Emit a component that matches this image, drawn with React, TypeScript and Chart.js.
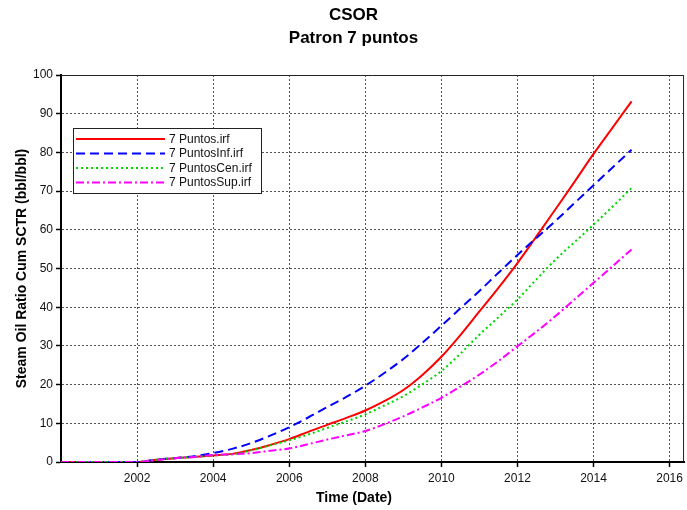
import React, { useEffect, useRef } from "react";
import { Chart, registerables } from "chart.js";

Chart.register(...registerables);

const years = [2000, 2001, 2002, 2002.5, 2003, 2003.5, 2004, 2004.5, 2005, 2005.5, 2006, 2006.5, 2007, 2007.5, 2008, 2008.5, 2009, 2009.5, 2010, 2010.5, 2011, 2011.5, 2012, 2012.5, 2013, 2013.5, 2014, 2014.5, 2015];

const puntos = [0, 0, 0, 0.6, 1.0, 1.3, 1.7, 2.1, 3.1, 4.4, 5.9, 7.8, 9.6, 11.4, 13.3, 15.7, 18.6, 22.5, 27.2, 32.8, 38.9, 45.0, 51.4, 58.3, 65.3, 72.4, 79.6, 86.4, 93.2];
const puntosInf = [0, 0, 0, 0.6, 1.0, 1.5, 2.3, 3.4, 4.9, 6.8, 9.0, 11.5, 14.2, 16.8, 19.7, 23.0, 26.6, 30.8, 35.2, 39.7, 44.2, 48.9, 53.5, 57.9, 62.3, 66.9, 71.5, 76.1, 80.7];
const puntosCen = [0, 0, 0, 0.6, 1.0, 1.3, 1.7, 2.0, 3.0, 4.3, 5.6, 7.1, 8.8, 10.5, 12.3, 14.6, 17.0, 20.1, 23.5, 28.0, 32.9, 37.4, 42.0, 47.2, 52.3, 56.8, 61.3, 66.0, 70.8];
const puntosSup = [0, 0, 0, 0.5, 1.0, 1.3, 1.8, 2.0, 2.3, 2.9, 3.5, 4.6, 5.8, 6.9, 8.0, 9.8, 11.8, 14.1, 16.6, 19.5, 22.6, 26.1, 29.9, 33.7, 37.7, 42.0, 46.3, 50.6, 54.9];

const seriesLabels = ["7 Puntos.irf", "7 PuntosInf.irf", "7 PuntosCen.irf", "7 PuntosSup.irf"];
const xTickValues = [2002, 2004, 2006, 2008, 2010, 2012, 2014, 2016];
const titleLines = ["CSOR", "Patron 7 puntos"];
const xTitle = "Time (Date)";
const yTitle = "Steam Oil Ratio Cum SCTR (bbl/bbl)";

const FONT = "'Liberation Sans', Arial, sans-serif";

const toPoints = (vals: number[]) => vals.map((v, i) => ({ x: years[i], y: v }));

const extrasPlugin = {
  id: "extras",
  afterDraw(chart: any) {
    const { ctx, chartArea: ca } = chart;
    ctx.save();
    // top and right frame
    ctx.strokeStyle = "#222";
    ctx.lineWidth = 1;
    ctx.setLineDash([]);
    ctx.beginPath();
    ctx.moveTo(ca.left, ca.top + 0.5);
    ctx.lineTo(ca.right - 0.5, ca.top + 0.5);
    ctx.lineTo(ca.right - 0.5, ca.bottom);
    ctx.stroke();

    // x-axis title
    ctx.fillStyle = "#000";
    ctx.font = `bold 14px ${FONT}`;
    ctx.textAlign = "center";
    ctx.textBaseline = "middle";
    ctx.fillText(xTitle, 354, 498);

    // legend
    const lx = ca.left + 12;
    const ly = ca.top + 53;
    const lw = 188;
    const lh = 65;
    ctx.fillStyle = "#fff";
    ctx.fillRect(lx, ly, lw, lh);
    ctx.strokeStyle = "#222";
    ctx.lineWidth = 1;
    ctx.strokeRect(lx + 0.5, ly + 0.5, lw, lh);
    ctx.font = `12px ${FONT}`;
    ctx.textAlign = "left";
    chart.data.datasets.forEach((ds: any, i: number) => {
      const y = ly + 11 + i * 14.5;
      ctx.strokeStyle = ds.borderColor;
      ctx.lineWidth = ds.borderWidth;
      ctx.setLineDash(ds.borderDash || []);
      ctx.beginPath();
      ctx.moveTo(lx + 3, y);
      ctx.lineTo(lx + 92, y);
      ctx.stroke();
      ctx.setLineDash([]);
      ctx.fillStyle = "#111";
      ctx.fillText(ds.label, lx + 96, y + 0.5);
    });
    ctx.restore();
  },
};

export default function App() {
  const canvasRef = useRef<HTMLCanvasElement | null>(null);

  useEffect(() => {
    if (!canvasRef.current) return;
    Chart.defaults.font.family = FONT;
    Chart.defaults.color = "#000";
    const chart = new Chart(canvasRef.current, {
      type: "line",
      data: {
        datasets: [
          { label: seriesLabels[0], data: toPoints(puntos), borderColor: "#ff0000", borderWidth: 2, borderDash: [], order: 4 },
          { label: seriesLabels[1], data: toPoints(puntosInf), borderColor: "#0000ff", borderWidth: 2, borderDash: [9, 5], order: 3 },
          { label: seriesLabels[2], data: toPoints(puntosCen), borderColor: "#00d800", borderWidth: 2, borderDash: [2, 3], order: 2 },
          { label: seriesLabels[3], data: toPoints(puntosSup), borderColor: "#ff00ff", borderWidth: 2, borderDash: [8, 3, 2, 3], order: 1 },
        ] as any,
      },
      options: {
        animation: false,
        responsive: true,
        maintainAspectRatio: false,
        layout: { padding: { left: 22, right: 2, top: 0, bottom: 0 } },
        elements: {
          point: { radius: 0, hoverRadius: 0 },
          line: { cubicInterpolationMode: "monotone", fill: false },
        },
        plugins: {
          legend: { display: false },
          tooltip: { enabled: false },
          title: {
            display: true,
            text: titleLines,
            color: "#000",
            font: { size: 17, weight: "bold", family: FONT, lineHeight: 1.35 },
            padding: { top: 3.5, bottom: 25.6 },
          },
        },
        scales: {
          x: {
            type: "linear",
            min: 2000,
            max: 2016.38,
            afterBuildTicks: (scale: any) => {
              scale.ticks = xTickValues.map((v) => ({ value: v }));
            },
            afterFit: (scale: any) => {
              scale.height = 48;
            },
            ticks: {
              autoSkip: false,
              maxRotation: 0,
              padding: 4,
              font: { size: 12, family: FONT },
              color: "#111",
              callback: (v: any) => String(v),
            },
            grid: {
              color: "#555",
              lineWidth: 1,
              tickLength: 5,
              tickColor: "#000",
              tickWidth: 1.5,
            },
            border: { display: true, color: "#000", width: 2, dash: [2, 2] },
          },
          y: {
            type: "linear",
            min: 0,
            max: 100,
            afterFit: (scale: any) => {
              scale.width = 39;
            },
            ticks: {
              stepSize: 10,
              padding: 3,
              font: { size: 12, family: FONT },
              color: "#111",
            },
            grid: {
              color: "#555",
              lineWidth: 1,
              tickLength: 5,
              tickColor: "#000",
              tickWidth: 1.5,
            },
            border: { display: true, color: "#000", width: 2, dash: [2, 2] },
            title: {
              display: true,
              text: yTitle,
              color: "#000",
              font: { size: 14, weight: "bold", family: FONT },
              padding: { top: -8, bottom: 0 },
            },
          },
        },
      } as any,
      plugins: [extrasPlugin],
    });
    return () => chart.destroy();
  }, []);

  return (
    <div style={{ position: "fixed", left: 0, top: 0, width: "687px", height: "510px", background: "#fff" }}>
      <canvas ref={canvasRef} />
    </div>
  );
}
